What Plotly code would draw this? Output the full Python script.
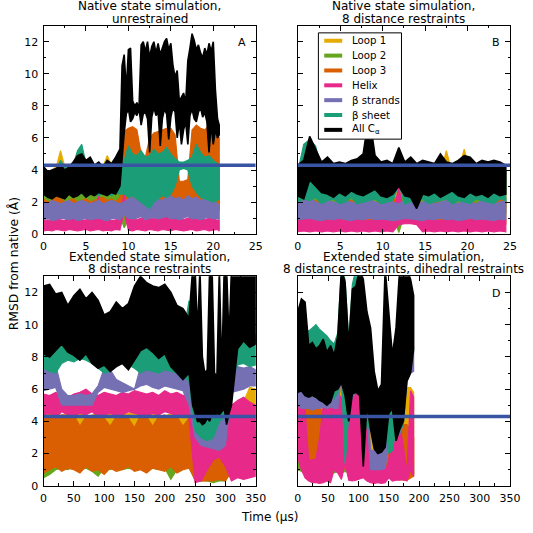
import plotly.graph_objects as go

# ---------------- data ----------------
SERIES = ["Loop 1", "Loop 2", "Loop 3", "Helix", "β strands", "β sheet", "All C<sub>α</sub>"]
THRESHOLD = 4.3

# Panel A: native state, unrestrained (time in µs)
A_t = [0, 0.5, 1, 1.5, 2, 2.5, 3, 3.5, 4, 4.5, 5, 5.5, 6, 6.5, 7, 7.5, 8, 8.5, 9, 9.5, 10,
       10.5, 11, 11.5, 12, 12.5, 13, 13.5, 14, 14.5, 15, 15.5, 16, 16.5, 17, 17.5, 18, 18.5,
       19, 19.5, 20, 20.5, 20.7]
A_loop1_lo = [1.8, 1.7, 1.9, 1.8, 1.7, 1.9, 1.8, 1.7, 1.9, 1.8, 1.7, 1.9, 1.8, 1.7, 1.9, 1.8, 1.7, 1.9, 1.8, 1.7, 1.9, 1.8, 1.7, 1.9, 1.8, 1.7, 1.9, 1.8, 1.7, 1.9, 1.8, 1.7, 1.9, 1.8, 1.7, 1.9, 1.8, 1.7, 1.9, 1.8, 1.7, 1.9, 1.8]
A_loop1_hi = [3.8, 3.9, 4.0, 4.2, 5.2, 4.2, 3.9, 4.0, 4.1, 4.2, 4.0, 4.3, 3.9, 4.1, 4.2, 4.9, 4.3, 4.2, 4.5, 4.0, 4.2, 4.1, 4.0, 3.9, 4.1, 4.0, 4.2, 4.1, 4.3, 4.5, 4.6, 4.4, 3.2, 3.2, 3.3, 4.2, 4.1, 4.0, 4.2, 4.1, 4.0, 3.9, 3.8]
A_loop2_lo = [1.4, 1.5, 1.3, 1.5, 1.4, 1.5, 1.3, 1.4, 1.5, 1.4, 1.3, 1.5, 1.4, 1.5, 1.4, 1.3, 1.5, 1.4, 1.2, 0.4, 0.9, 1.4, 1.5, 1.3, 1.4, 1.5, 1.4, 1.3, 1.5, 1.4, 1.5, 1.3, 1.4, 1.5, 1.4, 1.3, 1.5, 1.4, 1.5, 1.4, 1.3, 1.4, 1.5]
A_loop2_hi = [2.5, 2.4, 2.6, 2.7, 2.5, 2.4, 2.6, 2.5, 2.4, 2.6, 2.5, 2.6, 2.4, 2.5, 2.6, 2.5, 2.4, 2.6, 2.5, 2.6, 2.8, 2.7, 2.6, 2.5, 2.7, 2.6, 2.8, 2.5, 2.6, 2.7, 2.6, 2.5, 2.6, 2.7, 2.5, 2.6, 2.8, 2.6, 2.5, 2.6, 2.7, 2.5, 2.4]
A_loop3_lo = [1.0, 1.1, 0.9, 1.0, 1.2, 1.0, 1.1, 0.9, 1.0, 1.1, 1.0, 1.2, 1.0, 0.9, 1.1, 1.0, 1.0, 1.1, 1.0, 1.6, 1.5, 1.4, 1.6, 1.5, 1.3, 1.4, 1.6, 1.5, 1.4, 1.5, 1.6, 1.5, 1.4, 1.5, 1.6, 1.4, 1.5, 1.6, 1.5, 1.4, 1.5, 1.6, 1.5]
A_loop3_hi = [2.2, 2.0, 2.1, 2.3, 2.2, 2.0, 2.1, 2.2, 2.0, 2.1, 2.2, 2.0, 2.1, 2.2, 2.3, 2.1, 2.2, 2.0, 2.3, 6.4, 6.6, 6.7, 6.5, 5.0, 4.8, 6.0, 6.3, 6.4, 6.5, 6.6, 6.6, 6.2, 3.3, 3.3, 3.4, 6.5, 6.8, 6.6, 6.5, 6.8, 6.7, 6.2, 6.0]
A_helix_lo = [0.2, 0.25, 0.2, 0.3, 0.25, 0.2, 0.3, 0.25, 0.2, 0.25, 0.3, 0.2, 0.25, 0.3, 0.2, 0.25, 0.2, 0.3, 0.25, 1.4, 0.25, 0.2, 0.3, 0.25, 0.2, 0.3, 0.25, 0.2, 0.3, 0.25, 0.2, 0.3, 0.25, 0.2, 0.25, 0.3, 0.2, 0.25, 0.3, 0.2, 0.25, 0.3, 0.2]
A_helix_hi = [0.85, 0.9, 0.8, 0.95, 0.9, 0.85, 1.0, 0.9, 0.95, 0.85, 0.9, 1.0, 0.9, 2.4, 0.95, 0.9, 0.85, 0.9, 1.0, 2.6, 1.0, 0.95, 0.9, 1.0, 1.1, 1.0, 0.95, 1.05, 1.0, 1.1, 1.2, 0.95, 1.0, 0.9, 1.0, 1.05, 0.95, 1.0, 0.9, 1.0, 0.95, 0.9, 0.85]
A_strands_lo = [0.9, 1.0, 0.85, 0.9, 1.0, 0.95, 0.9, 1.0, 0.85, 0.9, 1.0, 0.9, 0.95, 1.0, 0.9, 0.85, 0.95, 1.0, 0.9, 1.2, 1.0, 0.95, 1.0, 1.1, 0.9, 1.0, 1.05, 0.95, 1.0, 1.1, 0.95, 1.0, 0.9, 1.0, 1.1, 0.95, 1.0, 0.9, 1.0, 1.05, 0.95, 1.0, 0.9]
A_strands_hi = [2.0, 1.9, 2.1, 2.0, 1.9, 2.0, 2.1, 1.9, 2.0, 2.1, 2.0, 1.9, 2.0, 2.1, 1.9, 2.0, 2.1, 2.0, 1.9, 2.0, 2.2, 2.3, 2.1, 2.4, 2.2, 2.3, 2.5, 2.2, 2.1, 2.3, 2.4, 2.2, 2.3, 2.1, 2.4, 2.2, 2.3, 2.1, 2.2, 2.0, 2.1, 1.9, 1.8]
A_sheet_lo = [2.5, 2.3, 2.6, 2.5, 2.4, 2.6, 2.5, 2.4, 2.6, 2.5, 2.4, 2.6, 2.5, 2.4, 2.6, 2.5, 2.4, 2.6, 2.5, 2.5, 2.3, 2.4, 2.2, 2.0, 1.8, 1.6, 2.0, 2.2, 2.4, 2.3, 2.5, 3.0, 4.0, 4.1, 4.0, 3.0, 2.6, 2.3, 2.2, 2.1, 2.0, 2.1, 2.2]
A_sheet_hi = [3.8, 3.6, 3.9, 4.0, 4.6, 4.2, 4.0, 4.3, 5.2, 5.6, 4.4, 4.2, 4.1, 4.0, 4.3, 4.2, 4.1, 4.4, 4.2, 4.6, 5.5, 5.0, 4.9, 5.2, 4.8, 4.9, 5.3, 5.0, 5.1, 5.4, 5.0, 4.7, 4.5, 4.5, 4.6, 4.8, 5.6, 5.1, 4.8, 4.9, 4.6, 4.4, 4.3]
A_all_t = [0, 0.5, 1, 1.5, 2, 2.5, 3, 3.5, 4, 4.5, 5, 5.5, 6, 6.5, 7, 7.5, 8, 8.5, 9,
           9.25, 9.5, 9.75, 10, 10.25, 10.5, 10.75, 11, 11.25, 11.5, 11.75, 12, 12.25, 12.5,
           12.75, 13, 13.25, 13.5, 13.75, 14, 14.25, 14.5, 14.75, 15, 15.25, 15.5, 15.75, 16,
           16.25, 16.5, 16.75, 17, 17.25, 17.5, 17.75, 18, 18.25, 18.5, 18.75, 19, 19.25, 19.5,
           19.75, 20, 20.25, 20.5, 20.7]
A_all_lo = [2.5, 2.3, 2.2, 2.4, 2.3, 2.2, 2.5, 2.3, 2.4, 2.6, 2.3, 2.5, 2.4, 2.6, 2.5, 2.4, 2.6, 2.5, 3.0,
            4.5, 6.3, 7.5, 7.8, 7.0, 7.2, 7.6, 7.4, 7.8, 6.8, 7.5, 7.6, 7.2, 5.1, 7.3, 7.9, 7.4, 7.6,
            5.5, 7.2, 7.8, 7.5, 5.9, 7.3, 7.9, 7.6, 6.0, 7.0, 5.6, 6.5, 7.0, 5.6, 7.4, 7.8, 7.2, 7.0,
            7.6, 7.9, 7.3, 7.6, 7.0, 5.1, 6.8, 5.6, 6.5, 6.0, 6.2]
A_all_hi = [4.2, 3.9, 4.0, 4.1, 4.3, 4.0, 4.2, 4.5, 4.9, 5.0, 4.6, 4.8, 4.3, 4.5, 4.2, 4.6, 4.4, 4.8, 5.3,
            10.5, 11.2, 9.0, 11.5, 11.6, 8.3, 8.0, 8.2, 7.9, 11.8, 12.0, 11.4, 12.0, 11.0, 11.7, 12.0,
            11.3, 11.9, 11.2, 11.6, 12.0, 12.2, 11.5, 11.9, 10.5, 9.8, 10.2, 8.3, 8.6, 8.8, 8.2, 10.8,
            11.6, 12.5, 12.1, 11.5, 11.8, 11.3, 11.0, 11.6, 11.2, 11.9, 11.4, 12.0, 9.0, 7.2, 6.8]

# Panel B: native state, 8 distance restraints (time in µs)
B_t = [0, 0.7, 1.4, 2.1, 2.8, 3.5, 4.2, 4.9, 5.6, 6.3, 7.0, 7.7, 8.4, 9.1, 9.8, 10.5, 11.2, 11.9,
       12.6, 13.3, 14.0, 14.7, 15.4, 16.1, 16.8, 17.5, 18.2, 18.9, 19.6, 20.3, 21.0, 21.7, 22.4,
       23.1, 23.8, 24.5]
B_loop1_lo = [1.6, 1.5, 1.7, 1.6, 1.5, 1.7, 1.6, 1.5, 1.7, 1.6, 1.5, 1.7, 1.6, 1.5, 1.7, 1.6, 1.5, 1.7, 1.6, 1.5, 1.7, 1.6, 1.5, 1.7, 1.6, 1.5, 1.7, 1.6, 1.5, 1.7, 1.6, 1.5, 1.7, 1.6, 1.5, 1.7]
B_loop1_hi = [4.4, 3.8, 3.9, 3.8, 3.9, 3.8, 4.4, 4.3, 3.8, 3.9, 3.8, 3.9, 3.8, 3.9, 3.8, 3.9, 3.8, 3.9, 3.8, 3.9, 3.8, 3.9, 3.8, 3.9, 3.8, 5.2, 3.8, 3.9, 5.3, 3.9, 3.8, 3.9, 3.8, 3.9, 3.8, 3.9]
B_loop2_lo = [1.3, 1.2, 1.4, 1.3, 1.2, 1.3, 1.4, 1.2, 1.3, 1.4, 1.2, 1.3, 1.4, 1.2, 1.3, 1.4, 1.2, 0.1, 1.3, 1.2, 1.4, 1.3, 1.2, 1.3, 1.4, 1.2, 1.3, 1.4, 1.2, 1.3, 1.4, 1.2, 1.3, 1.4, 1.2, 1.3]
B_loop2_hi = [2.3, 2.2, 2.4, 2.5, 2.3, 2.2, 2.4, 2.3, 2.2, 2.4, 2.3, 2.5, 2.3, 2.2, 2.4, 2.3, 2.2, 2.4, 2.3, 2.2, 2.3, 2.4, 2.2, 2.3, 2.4, 2.3, 2.2, 2.4, 2.3, 2.2, 2.3, 2.4, 2.2, 2.3, 2.4, 2.3]
B_loop3_lo = [0.5, 0.6, 0.5, 0.6, 0.5, 0.6, 0.5, 0.6, 0.5, 0.6, 0.5, 0.6, 0.5, 0.6, 0.5, 0.6, 0.5, 0.7, 0.7, 0.7, 0.7, 0.6, 0.5, 0.6, 0.5, 0.6, 0.5, 0.6, 0.5, 0.6, 0.5, 0.6, 0.5, 0.6, 0.5, 0.6]
B_loop3_hi = [1.9, 2.0, 1.8, 2.1, 1.9, 2.0, 1.8, 1.9, 2.0, 2.1, 1.9, 2.0, 2.2, 1.9, 2.0, 1.8, 2.3, 2.0, 1.9, 2.0, 1.8, 1.9, 2.0, 2.1, 1.9, 2.0, 1.8, 1.9, 2.0, 2.1, 1.9, 2.0, 1.8, 1.9, 2.2, 2.0]
B_helix_lo = [0.15, 0.2, 0.15, 0.2, 0.15, 0.2, 0.15, 0.2, 0.15, 0.2, 0.15, 0.2, 0.15, 0.2, 0.15, 0.2, 0.15, 0.6, 0.65, 0.65, 0.6, 0.15, 0.2, 0.15, 0.2, 0.15, 0.2, 0.15, 0.2, 0.15, 0.2, 0.15, 0.2, 0.15, 0.2, 0.15]
B_helix_hi = [0.85, 0.9, 2.1, 1.6, 0.9, 0.85, 0.95, 0.9, 0.85, 0.9, 1.0, 0.9, 0.85, 0.9, 0.95, 0.9, 1.1, 3.0, 0.95, 0.9, 0.85, 0.9, 0.95, 0.9, 0.85, 0.9, 0.95, 0.9, 0.85, 0.9, 0.95, 0.9, 0.85, 0.9, 0.95, 0.9]
B_strands_lo = [0.9, 0.95, 1.0, 0.9, 0.85, 0.95, 0.9, 1.0, 0.9, 0.85, 0.95, 0.9, 1.0, 0.9, 0.95, 0.9, 0.85, 0.9, 1.0, 0.95, 0.9, 0.85, 0.95, 0.9, 1.0, 0.9, 0.95, 0.85, 0.9, 1.0, 0.9, 0.95, 0.9, 0.85, 0.95, 0.9]
B_strands_hi = [2.0, 2.1, 2.3, 2.0, 1.9, 2.1, 2.0, 1.9, 2.1, 2.0, 1.9, 2.1, 2.2, 2.0, 1.9, 2.1, 2.0, 1.9, 2.1, 2.0, 1.9, 2.0, 2.1, 1.9, 2.0, 2.1, 2.0, 1.9, 2.1, 2.0, 1.9, 2.1, 2.0, 1.9, 2.0, 2.1]
B_sheet_lo = [2.0, 2.2, 2.1, 2.3, 1.9, 2.1, 2.2, 1.9, 2.0, 2.3, 1.9, 2.0, 2.1, 2.2, 1.9, 2.0, 2.1, 3.1, 1.9, 2.0, 2.1, 2.2, 1.9, 2.0, 2.1, 2.2, 1.9, 2.1, 2.0, 1.9, 2.2, 2.1, 2.0, 1.9, 2.2, 2.1]
B_sheet_hi = [3.9, 5.6, 5.9, 5.5, 4.0, 4.1, 3.9, 4.0, 4.1, 3.9, 4.2, 4.0, 4.1, 4.0, 3.9, 4.1, 4.0, 4.2, 4.0, 3.9, 4.1, 4.0, 3.9, 4.0, 4.9, 4.0, 4.1, 3.9, 4.0, 4.1, 3.9, 4.0, 4.1, 3.9, 4.0, 3.9]
B_all_lo = [2.4, 2.2, 3.4, 3.0, 2.6, 2.5, 2.3, 2.6, 2.4, 2.7, 2.5, 2.4, 2.6, 2.8, 2.4, 2.3, 2.5, 3.0, 2.4, 2.3, 1.6, 2.5, 2.4, 2.6, 2.3, 2.5, 2.7, 2.4, 2.3, 2.6, 2.4, 2.5, 2.3, 2.6, 2.4, 2.5]
B_all_hi = [4.3, 4.6, 6.1, 5.3, 4.5, 4.8, 4.4, 4.5, 4.4, 4.6, 4.7, 5.0, 7.5, 4.9, 4.5, 4.6, 4.4, 5.4, 4.5, 4.8, 4.4, 4.6, 4.5, 4.4, 5.0, 4.5, 4.4, 4.6, 4.9, 4.8, 4.4, 4.6, 4.5, 4.6, 4.5, 4.3]

# Panel C: extended state, 8 distance restraints (time in µs)
C_t = [0, 10, 20, 30, 40, 50, 60, 70, 80, 90, 100, 110, 120, 130, 140, 150, 160, 170, 180,
       190, 200, 210, 220, 230, 240, 250, 260, 270, 280, 290, 300, 310, 320, 330, 340, 350]
C_loop1_lo = [1.2, 1.3, 1.4, 1.2, 1.3, 1.5, 1.2, 1.4, 1.3, 1.2, 1.1, 1.3, 1.4, 1.2, 1.3, 1.2, 1.4, 1.3, 1.2, 1.3, 1.1, 1.2, 1.0, 1.2, 1.3, 0.8, 0.7, 0.6, 0.8, 0.7, 0.6, 1.2, 1.3, 1.4, 1.2, 1.3]
C_loop1_hi = [4.4, 4.5, 4.3, 4.4, 4.5, 4.4, 4.5, 4.3, 4.4, 4.5, 4.4, 4.5, 4.3, 4.4, 4.5, 4.6, 4.4, 4.5, 4.5, 4.4, 4.3, 4.5, 4.4, 4.5, 4.4, 3.0, 2.5, 2.4, 2.6, 2.5, 2.8, 4.5, 5.0, 5.2, 6.1, 6.0]
C_loop2_lo = [0.5, 0.7, 1.0, 1.1, 1.0, 1.2, 1.0, 1.1, 0.9, 0.6, 1.1, 1.0, 1.2, 1.0, 1.1, 1.0, 1.2, 1.0, 1.1, 1.0, 1.1, 0.4, 1.0, 1.1, 1.2, 0.3, 0.3, 0.3, 0.2, 0.3, 0.3, 1.0, 1.1, 1.0, 1.2, 1.0]
C_loop2_hi = [3.5, 3.4, 3.6, 3.5, 3.3, 3.5, 3.4, 3.6, 3.5, 3.4, 3.5, 3.3, 3.6, 3.5, 3.4, 3.5, 3.6, 3.4, 3.5, 3.3, 3.5, 3.4, 3.6, 3.5, 3.4, 2.0, 1.8, 1.5, 1.6, 1.7, 1.8, 3.0, 3.2, 3.1, 3.0, 3.2]
C_loop3_lo = [0.8, 1.0, 1.2, 0.9, 1.1, 1.0, 0.8, 1.2, 0.9, 1.0, 0.7, 1.1, 0.9, 1.0, 1.2, 0.9, 1.0, 0.8, 1.1, 1.0, 0.9, 1.2, 0.8, 1.0, 1.1, 0.4, 0.3, 0.3, 0.3, 0.4, 0.3, 0.9, 1.0, 0.8, 0.9, 1.0]
C_loop3_hi = [4.3, 4.4, 4.2, 4.4, 4.3, 4.4, 3.7, 4.3, 4.3, 4.4, 4.2, 3.7, 4.3, 4.4, 4.2, 3.6, 4.4, 4.3, 3.7, 4.3, 4.4, 4.2, 4.3, 3.7, 4.2, 2.5, 2.2, 2.0, 2.3, 2.1, 2.4, 3.6, 3.8, 3.5, 3.7, 3.4]
C_helix_lo = [4.4, 4.5, 4.2, 4.6, 4.4, 4.3, 4.5, 4.4, 4.6, 4.3, 4.4, 4.5, 4.3, 4.4, 4.6, 4.5, 4.4, 4.3, 4.5, 4.4, 4.6, 4.5, 4.3, 4.4, 4.2, 0.2, 0.3, 1.0, 1.6, 1.8, 1.2, 0.3, 0.5, 0.4, 0.5, 0.6]
C_helix_hi = [5.7, 5.6, 5.8, 5.6, 5.5, 5.7, 5.8, 6.0, 5.7, 5.6, 5.8, 5.7, 5.6, 5.8, 5.7, 5.9, 5.8, 5.7, 5.8, 5.6, 5.9, 5.7, 5.8, 5.6, 5.7, 5.3, 3.5, 3.4, 3.3, 3.2, 3.6, 5.0, 5.3, 5.5, 5.2, 5.0]
C_strands_lo = [5.9, 6.0, 6.1, 5.0, 5.0, 5.0, 5.0, 5.0, 5.0, 5.8, 6.1, 6.0, 5.9, 5.8, 5.9, 6.0, 6.2, 6.3, 6.1, 6.0, 6.2, 6.1, 6.0, 5.9, 5.0, 3.0, 2.5, 2.4, 2.3, 2.2, 2.5, 5.8, 5.9, 6.0, 6.2, 6.2]
C_strands_hi = [7.2, 7.4, 7.5, 6.0, 5.6, 5.6, 5.7, 5.6, 5.7, 6.2, 7.3, 7.2, 6.6, 6.4, 6.2, 6.0, 7.4, 7.6, 7.5, 7.6, 7.7, 7.4, 7.5, 7.6, 7.3, 7.0, 4.0, 3.3, 3.5, 4.6, 4.8, 7.2, 7.4, 7.3, 7.4, 7.2]
C_sheet_lo = [7.3, 7.1, 7.0, 7.6, 7.8, 7.7, 7.9, 7.8, 7.6, 7.3, 7.0, 7.1, 7.4, 7.6, 7.5, 7.3, 7.0, 7.2, 7.1, 7.0, 7.2, 7.1, 7.0, 6.8, 6.5, 3.4, 3.0, 2.8, 3.0, 4.0, 4.3, 6.5, 7.5, 7.6, 7.4, 7.5]
C_sheet_hi = [9.5, 9.6, 9.4, 9.5, 9.3, 9.6, 9.4, 9.5, 9.3, 9.4, 9.2, 9.5, 9.3, 9.4, 9.5, 9.6, 9.4, 9.5, 9.3, 9.4, 9.5, 9.3, 9.4, 9.2, 11.5, 7.5, 5.6, 5.7, 5.5, 4.8, 4.8, 8.5, 9.5, 9.6, 9.2, 9.4]
C_all_t = [0, 10, 20, 30, 40, 50, 60, 70, 80, 90, 100, 110, 120, 130, 140, 150, 160, 170, 180,
           190, 200, 210, 220, 230, 240, 246, 250, 254, 258, 262, 266, 270, 274, 278, 282, 286,
           290, 294, 298, 302, 306, 310, 320, 330, 340, 350]
C_all_lo = [8.2, 8.0, 8.4, 8.8, 8.3, 8.1, 7.8, 8.2, 7.6, 7.3, 7.5, 7.1, 7.4, 7.6, 7.2, 7.8, 8.4, 8.6, 8.3, 7.9, 8.2, 7.4, 7.0, 6.6, 7.0,
            5.0, 4.5, 4.0, 4.0, 3.8, 3.9, 4.2, 4.0, 4.5, 4.3, 4.5, 4.4, 4.6, 4.8, 3.8, 4.5, 5.0, 8.5, 9.0, 8.6, 8.8]
C_all_hi = [12.4, 12.5, 11.9, 12.0, 11.2, 11.8, 12.2, 11.6, 12.0, 11.5, 10.6, 10.8, 11.4, 11.0, 11.3, 12.4, 13.0, 12.6, 12.4, 12.3, 12.5, 12.0, 11.2, 11.0, 10.4,
            13.5, 13.5, 9.5, 13.5, 8.0, 7.0, 7.2, 13.5, 13.5, 7.0, 6.8, 13.5, 7.0, 13.5, 13.5, 9.0, 13.5, 13.5, 13.5, 13.5, 13.5]

# Panel D: extended state, distance + dihedral restraints (time in µs)
D_t = [0, 6, 12, 18, 24, 30, 36, 42, 48, 54, 60, 66, 72, 78, 84, 90, 96, 102, 108, 114, 120,
       126, 132, 138, 144, 150, 156, 162, 168, 174, 180, 186, 191]
D_loop1_lo = [1.5, 1.4, 1.6, 1.5, 1.4, 1.6, 1.5, 1.4, 1.5, 1.6, 1.4, 1.5, 1.6, 1.5, 1.4, 1.5, 1.6, 1.5, 1.4, 1.5, 1.2, 1.2, 1.3, 1.2, 1.1, 1.3, 1.2, 1.3, 1.2, 1.1, 1.2, 1.3, 1.4]
D_loop1_hi = [5.9, 5.8, 5.2, 5.0, 5.0, 4.8, 4.8, 4.8, 4.8, 4.9, 5.0, 5.5, 6.6, 6.5, 5.0, 5.0, 5.0, 5.0, 4.5, 5.4, 4.0, 3.0, 3.0, 3.0, 3.0, 3.5, 4.0, 4.0, 4.0, 5.0, 6.1, 6.1, 5.8]
D_loop2_lo = [1.0, 0.9, 0.8, 0.9, 0.8, 0.9, 0.8, 0.9, 0.8, 0.9, 0.8, 0.9, 0.8, 0.9, 0.8, 0.9, 0.8, 0.9, 0.8, 0.9, 0.8, 0.9, 0.8, 0.9, 0.8, 0.9, 0.8, 0.9, 0.8, 0.9, 0.8, 0.9, 0.8]
D_loop2_hi = [1.8, 1.6, 1.5, 1.5, 1.4, 1.5, 1.6, 1.5, 1.4, 1.5, 1.6, 1.5, 1.4, 1.5, 1.6, 1.5, 1.4, 1.5, 1.6, 1.5, 1.4, 1.5, 1.6, 1.5, 1.4, 1.5, 1.6, 1.5, 1.4, 1.5, 1.6, 1.5, 1.4]
D_loop3_lo = [5.1, 1.8, 1.6, 1.6, 1.6, 1.8, 2.0, 2.0, 2.0, 1.8, 1.0, 1.0, 1.2, 1.0, 1.0, 1.0, 1.2, 1.0, 1.0, 1.0, 0.5, 0.5, 0.5, 0.5, 0.5, 0.8, 0.5, 0.5, 0.4, 0.35, 0.35, 0.5, 0.6]
D_loop3_hi = [5.7, 5.3, 5.1, 5.1, 5.0, 5.0, 4.9, 4.5, 4.0, 3.5, 2.2, 2.2, 3.0, 2.5, 3.0, 3.5, 3.0, 3.0, 2.5, 3.5, 1.0, 1.0, 1.0, 1.0, 1.0, 2.0, 3.0, 3.5, 3.8, 3.8, 3.8, 3.5, 3.0]
D_helix_lo = [1.7, 1.0, 0.5, 0.3, 0.2, 0.2, 0.15, 0.2, 0.3, 0.2, 1.0, 0.8, 0.4, 1.4, 0.35, 0.3, 0.35, 0.4, 0.5, 0.3, 0.2, 0.15, 0.2, 0.15, 0.2, 0.5, 0.3, 0.35, 0.35, 0.4, 0.3, 1.0, 0.6]
D_helix_hi = [5.1, 5.0, 4.8, 1.6, 1.6, 1.7, 3.0, 5.0, 5.1, 5.0, 5.6, 5.7, 5.5, 3.0, 5.9, 5.8, 5.7, 5.5, 1.2, 4.0, 1.0, 1.0, 1.0, 1.1, 1.0, 1.5, 4.0, 3.8, 3.8, 2.5, 0.8, 5.9, 5.5]
D_strands_lo = [5.0, 4.8, 4.8, 4.8, 4.7, 4.8, 4.8, 4.9, 4.8, 4.9, 4.8, 4.8, 6.8, 1.4, 4.5, 5.5, 5.8, 6.0, 2.5, 4.5, 1.0, 1.0, 1.0, 1.0, 1.1, 2.5, 3.0, 3.0, 3.2, 3.8, 6.5, 7.0, 7.1]
D_strands_hi = [7.0, 6.0, 5.6, 5.6, 5.5, 5.6, 5.5, 5.4, 5.5, 5.6, 5.8, 6.0, 8.0, 6.3, 6.0, 7.5, 8.0, 8.5, 7.5, 6.0, 2.2, 2.2, 2.1, 2.2, 2.3, 3.5, 4.5, 4.0, 4.5, 6.3, 8.7, 8.8, 8.5]
D_sheet_lo = [6.7, 6.2, 5.8, 5.6, 5.6, 5.5, 5.4, 5.3, 5.5, 5.6, 5.4, 5.8, 7.0, 1.4, 4.5, 6.0, 6.5, 7.0, 3.0, 3.8, 3.5, 3.0, 3.0, 3.2, 3.5, 2.0, 2.2, 3.5, 3.4, 3.8, 7.5, 8.2, 8.3]
D_sheet_hi = [9.8, 10.0, 9.8, 9.6, 9.8, 10.0, 9.7, 9.5, 9.3, 9.0, 8.8, 9.5, 13.5, 12.8, 9.0, 12.5, 13.5, 13.5, 12.5, 10.5, 9.5, 6.5, 5.5, 5.8, 12.0, 10.0, 8.0, 9.5, 12.0, 12.5, 12.5, 12.0, 9.0]
D_all_lo = [5.8, 5.9, 5.6, 5.5, 5.6, 5.5, 5.3, 5.2, 5.0, 5.2, 5.9, 6.0, 6.4, 5.6, 4.0, 5.7, 5.8, 5.6, 1.2, 5.0, 3.5, 2.3, 2.0, 2.1, 2.4, 4.5, 4.8, 2.8, 3.5, 4.0, 6.5, 7.0, 8.5]
D_all_hi = [10.8, 11.6, 11.4, 8.7, 8.9, 8.5, 8.7, 9.1, 8.3, 8.7, 8.1, 9.3, 13.5, 12.6, 8.7, 12.2, 12.4, 13.5, 12.8, 10.8, 9.8, 7.1, 5.9, 6.3, 13.5, 10.8, 8.1, 9.8, 13.5, 13.5, 13.5, 12.8, 11.8]

# Panel titles and labels
TITLES = [("Native state simulation,", "unrestrained"),
          ("Native state simulation,", "8 distance restraints"),
          ("Extended state simulation,", "8 distance restraints"),
          ("Extended state simulation,", "8 distance restraints, dihedral restraints")]
LETTERS = ["A", "B", None, "D"]
X_RANGES = [[0, 25], [0, 25], [0, 350], [0, 350]]
Y_RANGE = [0, 13]

# ---------------- styling ----------------
COLORS = ["#e6ab02", "#66a61e", "#d95f02", "#e7298a", "#7570b3", "#1b9e77", "#000000"]
LINE_COLOR = "#3a54a4"
FONT = "DejaVu Sans"
W = H = 533

# pixel geometry of the four plotting areas (left, right, top, bottom)
BOXES = [(40.7, 259.0, 26.0, 237.3), (302.3, 520.7, 26.0, 237.3),
         (40.7, 259.0, 280.0, 492.3), (302.3, 520.7, 280.0, 492.3)]

panels = [
    [(A_t, A_loop1_lo, A_loop1_hi), (A_t, A_loop2_lo, A_loop2_hi), (A_t, A_loop3_lo, A_loop3_hi),
     (A_t, A_helix_lo, A_helix_hi), (A_t, A_strands_lo, A_strands_hi), (A_t, A_sheet_lo, A_sheet_hi),
     (A_all_t, A_all_lo, A_all_hi)],
    [(B_t, B_loop1_lo, B_loop1_hi), (B_t, B_loop2_lo, B_loop2_hi), (B_t, B_loop3_lo, B_loop3_hi),
     (B_t, B_helix_lo, B_helix_hi), (B_t, B_strands_lo, B_strands_hi), (B_t, B_sheet_lo, B_sheet_hi),
     (B_t, B_all_lo, B_all_hi)],
    [(C_t, C_loop1_lo, C_loop1_hi), (C_t, C_loop2_lo, C_loop2_hi), (C_t, C_loop3_lo, C_loop3_hi),
     (C_t, C_helix_lo, C_helix_hi), (C_t, C_strands_lo, C_strands_hi), (C_t, C_sheet_lo, C_sheet_hi),
     (C_all_t, C_all_lo, C_all_hi)],
    [(D_t, D_loop1_lo, D_loop1_hi), (D_t, D_loop2_lo, D_loop2_hi), (D_t, D_loop3_lo, D_loop3_hi),
     (D_t, D_helix_lo, D_helix_hi), (D_t, D_strands_lo, D_strands_hi), (D_t, D_sheet_lo, D_sheet_hi),
     (D_t, D_all_lo, D_all_hi)],
]

fig = go.Figure()

for p, series in enumerate(panels):
    xa = "x" if p == 0 else f"x{p + 1}"
    ya = "y" if p == 0 else f"y{p + 1}"
    for k, (t, lo, hi) in enumerate(series):
        fig.add_trace(go.Scatter(
            x=list(t) + list(t)[::-1], y=list(hi) + list(lo)[::-1],
            fill="toself", fillcolor=COLORS[k], mode="lines",
            line=dict(color=COLORS[k], width=1.2 if k < 6 else 1.6),
            hoverinfo="skip", showlegend=False, xaxis=xa, yaxis=ya))
    fig.add_trace(go.Scatter(
        x=X_RANGES[p], y=[THRESHOLD, THRESHOLD], mode="lines",
        line=dict(color=LINE_COLOR, width=3.6), hoverinfo="skip",
        showlegend=False, xaxis=xa, yaxis=ya))


def axis(dom, rng, dtick, minor, anchor, labels):
    return dict(domain=dom, range=rng, anchor=anchor, dtick=dtick, tick0=0,
                showline=True, linecolor="black", linewidth=1, mirror="ticks",
                ticks="inside", ticklen=5, tickwidth=1, tickcolor="black",
                minor=dict(ticks="inside", ticklen=2.5, tickwidth=1, tickcolor="black",
                           dtick=minor, tick0=0, showgrid=False),
                showgrid=False, zeroline=False, showticklabels=labels,
                tickfont=dict(family=FONT, size=11, color="black"), ticklabelstandoff=2)


layout = dict(width=W, height=H, autosize=False, margin=dict(l=0, r=0, t=0, b=0),
              plot_bgcolor="white", paper_bgcolor="white",
              font=dict(family=FONT, color="black"), showlegend=False)
for p, (l, r, t, b) in enumerate(BOXES):
    xd = [l / W, r / W]
    yd = [1 - b / H, 1 - t / H]
    sx = "" if p == 0 else str(p + 1)
    big = X_RANGES[p][1] > 100
    layout["xaxis" + sx] = axis(xd, X_RANGES[p], 50 if big else 5, 25 if big else 2.5, "y" + sx, True)
    layout["yaxis" + sx] = axis(yd, Y_RANGE, 2, 1, "x" + sx, p in (0, 2))
fig.update_layout(**layout)

ann = []
for p, (l, r, t, b) in enumerate(BOXES):
    cx = (l + r) / 2 / W
    ann.append(dict(text=TITLES[p][0], x=cx, y=1 - (t - 19.5) / H, xref="paper", yref="paper",
                    xanchor="center", yanchor="middle", showarrow=False,
                    font=dict(family=FONT, size=12, color="black")))
    ann.append(dict(text=TITLES[p][1], x=cx, y=1 - (t - 7) / H, xref="paper", yref="paper",
                    xanchor="center", yanchor="middle", showarrow=False,
                    font=dict(family=FONT, size=12, color="black")))
    if LETTERS[p]:
        ann.append(dict(text=LETTERS[p], x=(r - 14.5) / W, y=1 - (t + 17) / H, xref="paper", yref="paper",
                        xanchor="center", yanchor="middle", showarrow=False,
                        font=dict(family=FONT, size=11, color="black")))
ann.append(dict(text="RMSD from native (Å)", x=10 / W, y=1 - 267 / H, xref="paper", yref="paper",
                textangle=-90, xanchor="center", yanchor="middle", showarrow=False,
                font=dict(family=FONT, size=12.3, color="black")))
ann.append(dict(text="Time (μs)", x=273 / W, y=1 - 524 / H, xref="paper", yref="paper",
                xanchor="center", yanchor="middle", showarrow=False,
                font=dict(family=FONT, size=12, color="black")))

# hand-built legend inside panel B
LEG_L, LEG_R, LEG_T, LEG_B = 323.5, 409.0, 33.3, 141.0
shapes = [dict(type="rect", xref="paper", yref="paper", x0=LEG_L / W, x1=LEG_R / W,
               y0=1 - LEG_B / H, y1=1 - LEG_T / H, line=dict(color="black", width=1),
               fillcolor="white", layer="above")]
for k, name in enumerate(SERIES):
    yy = 1 - (41.3 + 15.05 * k) / H
    shapes.append(dict(type="line", xref="paper", yref="paper", x0=329.5 / W, x1=348 / W,
                       y0=yy, y1=yy, line=dict(color=COLORS[k], width=4), layer="above"))
    ann.append(dict(text=name, x=356 / W, y=yy, xref="paper", yref="paper", xanchor="left",
                    yanchor="middle", showarrow=False,
                    font=dict(family=FONT, size=10.2, color="black")))

fig.update_layout(annotations=ann, shapes=shapes)
fig.write_html("out.html", config={"displayModeBar": False},
               post_script="document.body.style.margin='0';")
